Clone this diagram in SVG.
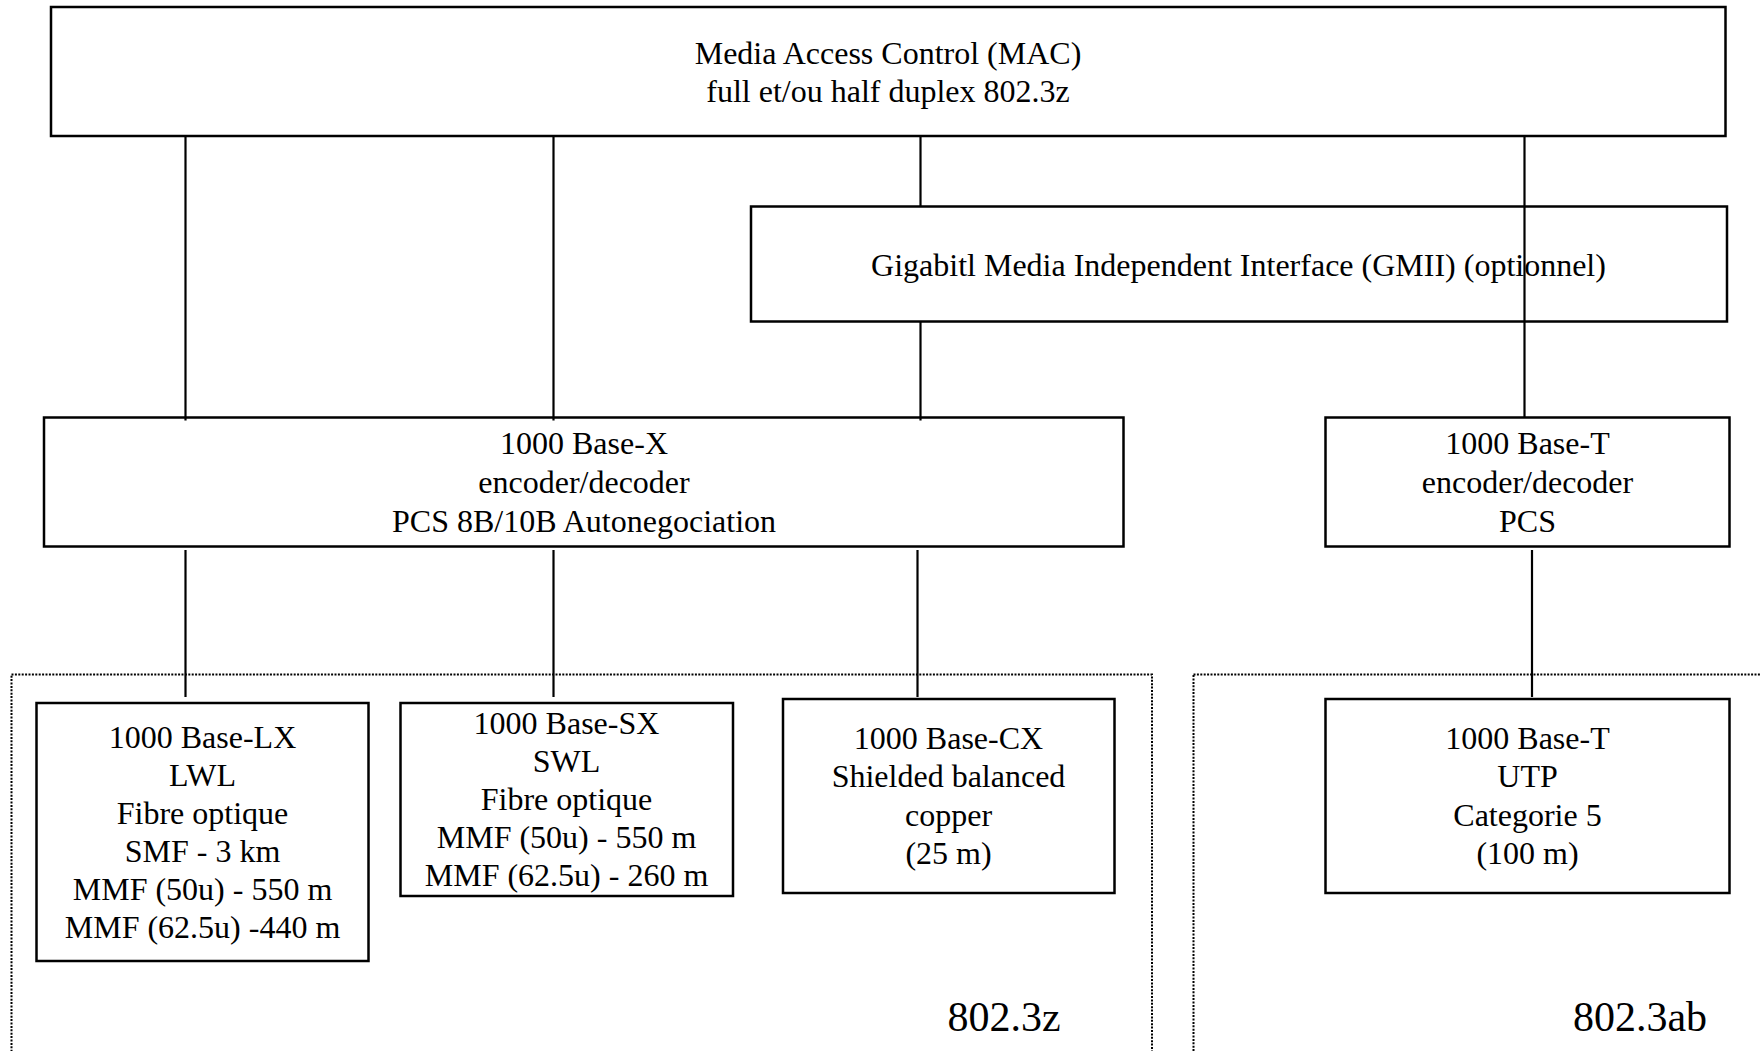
<svg xmlns="http://www.w3.org/2000/svg" width="1760" height="1051" viewBox="0 0 1760 1051">
<style>
.box{fill:#fff;stroke:#000;stroke-width:2.5}
.ln{stroke:#000;stroke-width:2.2;fill:none}
.dot{fill:none;stroke:#000;stroke-width:2;stroke-dasharray:2 1.4}
text{font-family:"Liberation Serif","Times New Roman",serif;font-size:32px;fill:#000;text-anchor:middle}
.big{font-size:42px}
</style>
<rect width="1760" height="1051" fill="#fff"/>
<g id="group-8023z"><rect class="dot" x="11.5" y="674.5" width="1140.5" height="420"/><text class="big" x="1004" y="1031">802.3z</text></g>
<g id="group-8023ab"><rect class="dot" x="1193.5" y="674.5" width="620" height="420"/><text class="big" x="1640" y="1031">802.3ab</text></g>
<g id="mac"><rect class="box" x="51" y="7" width="1674.5" height="129"/><text x="888" y="64">Media Access Control (MAC)</text><text x="888" y="102">full et/ou half duplex 802.3z</text></g>
<g id="gmii"><rect class="box" x="751" y="206.5" width="976" height="115"/><text x="1238.5" y="276">Gigabitl Media Independent Interface (GMII) (optionnel)</text></g>
<g id="basex"><rect class="box" x="44" y="417.5" width="1079.5" height="129"/><text x="584" y="454">1000 Base-X</text><text x="584" y="493">encoder/decoder</text><text x="584" y="532">PCS 8B/10B Autonegociation</text></g>
<g id="baset"><rect class="box" x="1325.5" y="417.5" width="404" height="129"/><text x="1527.5" y="454">1000 Base-T</text><text x="1527.5" y="493">encoder/decoder</text><text x="1527.5" y="532">PCS</text></g>
<g id="lx"><rect class="box" x="36.5" y="703" width="332" height="258"/><text x="202.5" y="748">1000 Base-LX</text><text x="202.5" y="786">LWL</text><text x="202.5" y="824">Fibre optique</text><text x="202.5" y="862">SMF - 3 km</text><text x="202.5" y="900">MMF (50u) - 550 m</text><text x="202.5" y="938">MMF (62.5u) -440 m</text></g>
<g id="sx"><rect class="box" x="400.5" y="703" width="332.5" height="193"/><text x="566.5" y="734">1000 Base-SX</text><text x="566.5" y="772">SWL</text><text x="566.5" y="810">Fibre optique</text><text x="566.5" y="848">MMF (50u) - 550 m</text><text x="566.5" y="886">MMF (62.5u) - 260 m</text></g>
<g id="cx"><rect class="box" x="783" y="699" width="331.5" height="194"/><text x="948.5" y="749">1000 Base-CX</text><text x="948.5" y="787">Shielded balanced</text><text x="948.5" y="826">copper</text><text x="948.5" y="864">(25 m)</text></g>
<g id="utp"><rect class="box" x="1325.5" y="699" width="404" height="194"/><text x="1527.5" y="749">1000 Base-T</text><text x="1527.5" y="787">UTP</text><text x="1527.5" y="826">Categorie 5</text><text x="1527.5" y="864">(100 m)</text></g>
<g id="connectors">
<line class="ln" x1="185.5" y1="136" x2="185.5" y2="420.5"/>
<line class="ln" x1="553.5" y1="136" x2="553.5" y2="420.5"/>
<line class="ln" x1="920.5" y1="136" x2="920.5" y2="206.5"/>
<line class="ln" x1="920.5" y1="321.5" x2="920.5" y2="420.5"/>
<line class="ln" x1="1524.5" y1="136" x2="1524.5" y2="418"/>
<line class="ln" x1="185.5" y1="550" x2="185.5" y2="697"/>
<line class="ln" x1="553.5" y1="550" x2="553.5" y2="697"/>
<line class="ln" x1="917.5" y1="550" x2="917.5" y2="697"/>
<line class="ln" x1="1532" y1="550" x2="1532" y2="697"/>
</g>
</svg>
